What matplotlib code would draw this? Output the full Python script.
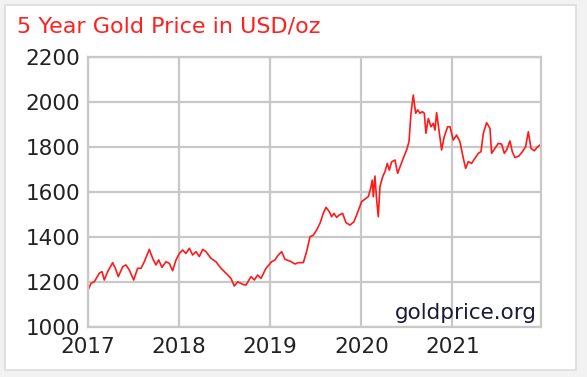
import matplotlib.pyplot as plt
from matplotlib.patches import Rectangle

# dates as decimal years, prices in USD/oz
years = [
    2017.000, 2017.033, 2017.069, 2017.124, 2017.154, 2017.179, 2017.216, 2017.271,
    2017.300, 2017.333, 2017.381, 2017.417, 2017.454, 2017.501, 2017.545, 2017.582,
    2017.618, 2017.673, 2017.710, 2017.746, 2017.776, 2017.812, 2017.856, 2017.893,
    2017.929, 2017.966, 2018.003, 2018.039, 2018.076, 2018.112, 2018.149, 2018.186,
    2018.222, 2018.259, 2018.295, 2018.350, 2018.405, 2018.460, 2018.515, 2018.570,
    2018.606, 2018.643, 2018.698, 2018.734, 2018.789, 2018.826, 2018.862, 2018.899,
    2018.954, 2019.016, 2019.053, 2019.089, 2019.126, 2019.162, 2019.217, 2019.272,
    2019.309, 2019.364, 2019.400, 2019.437, 2019.474, 2019.510, 2019.547, 2019.583,
    2019.613, 2019.649, 2019.675, 2019.700, 2019.730, 2019.759, 2019.795, 2019.832,
    2019.876, 2019.920, 2019.956, 2020.004, 2020.052, 2020.077, 2020.103, 2020.121,
    2020.132, 2020.150, 2020.169, 2020.187, 2020.205, 2020.235, 2020.260, 2020.286,
    2020.308, 2020.333, 2020.370, 2020.399, 2020.461, 2020.498, 2020.524, 2020.546,
    2020.571, 2020.597, 2020.619, 2020.644, 2020.670, 2020.692, 2020.710, 2020.736,
    2020.765, 2020.791, 2020.809, 2020.827, 2020.853, 2020.882, 2020.911, 2020.948,
    2020.974, 2021.010, 2021.047, 2021.083, 2021.120, 2021.146, 2021.175, 2021.211,
    2021.248, 2021.285, 2021.314, 2021.340, 2021.376, 2021.413, 2021.431, 2021.468,
    2021.504, 2021.541, 2021.570, 2021.596, 2021.632, 2021.658, 2021.687, 2021.731,
    2021.768, 2021.804, 2021.834, 2021.863, 2021.899, 2021.936, 2021.973,
]
prices = [
    1164, 1194, 1201, 1239, 1246, 1209, 1246, 1286,
    1261, 1224, 1268, 1276, 1253, 1209, 1261, 1261,
    1290, 1345, 1305, 1276, 1298, 1265, 1290, 1283,
    1250, 1298, 1327, 1342, 1327, 1350, 1320, 1335,
    1313, 1345, 1335, 1305, 1290, 1261, 1239, 1216,
    1182, 1201, 1190, 1186, 1224, 1209, 1231, 1216,
    1261, 1290, 1298, 1320, 1335, 1301, 1293, 1280,
    1286, 1286, 1335, 1401, 1408, 1431, 1461, 1505,
    1532, 1513, 1490, 1505, 1487, 1498, 1505, 1464,
    1453, 1468, 1505, 1557, 1572, 1579, 1616, 1653,
    1579, 1671, 1564, 1490, 1624, 1668, 1690, 1727,
    1697, 1734, 1742, 1683, 1750, 1787, 1824, 1950,
    2031, 1950, 1965, 1950, 1957, 1950, 1861, 1927,
    1890, 1905, 1875, 1953, 1875, 1787, 1846, 1890,
    1890, 1831, 1853, 1824, 1750, 1705, 1735, 1727,
    1750, 1772, 1779, 1861, 1908, 1883, 1772, 1794,
    1816, 1813, 1772, 1787, 1827, 1779, 1753, 1760,
    1779, 1801, 1868, 1794, 1783, 1801, 1812,
]

year_ticks = [2017, 2018, 2019, 2020, 2021]
price_ticks = [1000, 1200, 1400, 1600, 1800, 2000, 2200]

fig = plt.figure(figsize=(5.87, 3.77), dpi=100)
fig.patch.set_facecolor('#f2f2f2')

# white panel with light border, behind everything
fig.patches.append(Rectangle((5 / 587, 1 - 370 / 377), 571 / 587, 365 / 377,
                             transform=fig.transFigure, facecolor='white',
                             edgecolor='#dcdcdc', linewidth=1.2, zorder=-10))

fig.text(17 / 587, 1 - 26 / 377, '5 Year Gold Price in USD/oz', color='#ff2020',
         fontsize=16, va='center', ha='left')

ax = fig.add_axes([88 / 587, 1 - 327 / 377, 453 / 587, 270 / 377], zorder=5)
ax.set_facecolor('white')
ax.plot(years, prices, color='#ff1a1a', linewidth=1.2)

ax.set_xlim(2017, 2021.973)
ax.set_ylim(1000, 2200)
ax.set_xticks(year_ticks)
ax.set_yticks(price_ticks)
ax.tick_params(length=0, labelsize=15.5, colors='#222222')
ax.tick_params(axis='y', pad=5.5)
ax.tick_params(axis='x', pad=7)
ax.grid(True, color='#c8c8c8', linewidth=1.6)
ax.set_axisbelow(True)
for s in ax.spines.values():
    s.set_color('#c8c8c8')
    s.set_linewidth(1.6)

ax.text(0.99, 0.015, 'goldprice.org', transform=ax.transAxes, ha='right',
        va='bottom', fontsize=15.5, color='#1a1a3a')

fig.savefig('out.png', dpi=100, facecolor=fig.get_facecolor())
